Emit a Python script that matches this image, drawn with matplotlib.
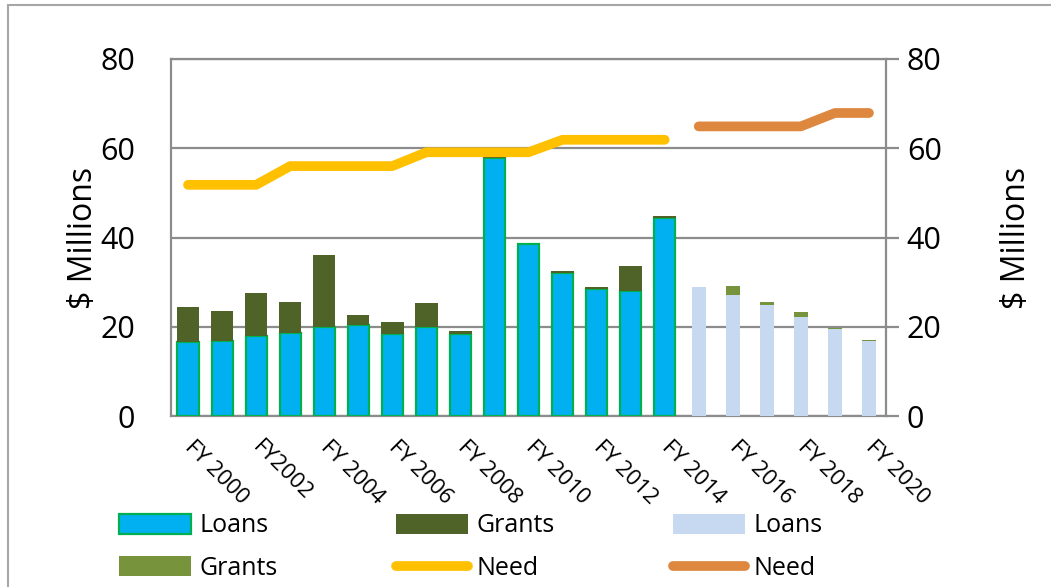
import matplotlib.pyplot as plt
from matplotlib.lines import Line2D
from matplotlib.patches import Patch, Rectangle

plt.rcParams['font.family'] = ['Open Sans', 'DejaVu Sans']

# fiscal years
years = ["FY 2000", "FY 2001", "FY2002", "FY 2003", "FY 2004", "FY 2005", "FY 2006",
         "FY 2007", "FY 2008", "FY 2009", "FY 2010", "FY 2011", "FY 2012", "FY 2013",
         "FY 2014", "FY 2015", "FY 2016", "FY 2017", "FY 2018", "FY 2019", "FY 2020"]

# actual funding FY2000-FY2014 ($ millions)
loans = [16.5, 16.8, 17.9, 18.6, 20.0, 20.3, 18.3, 19.9, 18.3, 57.8, 38.5, 32.0, 28.5, 27.9, 44.4]
grants = [7.9, 6.8, 9.7, 7.0, 16.0, 2.4, 2.7, 5.5, 0.7, 2.2, 0.0, 0.5, 0.5, 5.8, 0.4]
need = [51.8, 51.8, 51.8, 56.0, 56.0, 56.0, 56.0, 59.1, 59.1, 59.1, 59.1, 61.9, 61.9, 61.9, 61.9]

# projected FY2015-FY2020
loans_proj = [28.8, 27.1, 24.8, 22.2, 19.4, 16.7]
grants_proj = [0.0, 2.0, 0.7, 1.0, 0.4, 0.4]
need_proj = [64.9, 64.9, 64.9, 64.9, 67.9, 67.9]

blue = "#00B0F0"
blue_edge = "#00B050"
olive = "#4F6228"
light_blue = "#C6D9F1"
light_olive = "#77933C"
yellow = "#FFC000"
orange = "#DD873F"
grid_gray = "#8C8C8C"

fig = plt.figure(figsize=(10.51, 5.87), dpi=100)
ax = fig.add_axes([0.1627, 0.2913, 0.843 - 0.1627, 0.8995 - 0.2913])

# chart border
fig.patches.append(Rectangle((8 / 1051, -0.1), 1.2, 1.1 - 5 / 587 + 0.0001,
                             transform=fig.transFigure, fill=False,
                             edgecolor="#A6A6A6", linewidth=1.5, zorder=0))

n_act = len(loans)
x_act = list(range(n_act))
x_proj = list(range(n_act, n_act + len(loans_proj)))

ax.bar(x_act, loans, width=0.62, color=blue, edgecolor=blue_edge, linewidth=1.6, zorder=3)
ax.bar(x_act, grants, width=0.66, bottom=loans, color=olive, linewidth=0, zorder=3)
ax.bar(x_proj, loans_proj, width=0.4, color=light_blue, linewidth=0, zorder=3)
ax.bar(x_proj, grants_proj, width=0.4, bottom=loans_proj, color=light_olive, linewidth=0, zorder=3)

ax.plot(x_act, need, color=yellow, linewidth=7, solid_capstyle="round",
        solid_joinstyle="round", zorder=4)
ax.plot(x_proj, need_proj, color=orange, linewidth=7, solid_capstyle="round",
        solid_joinstyle="round", zorder=4)

ax.set_xlim(-0.5, len(years) - 0.5)
ax.set_ylim(0, 80)
ax.set_yticks([0, 20, 40, 60, 80])
ax.yaxis.grid(True, color=grid_gray, linewidth=1.6, zorder=0)
ax.set_axisbelow(True)
for s in ax.spines.values():
    s.set_color(grid_gray)
    s.set_linewidth(1.6)

ax.tick_params(axis="y", length=0, pad=26, labelsize=22)
ax.set_ylabel("$ Millions", fontsize=23, labelpad=0)

# every other year is labelled
ax.set_xticks(range(0, len(years), 2))
ax.set_xticklabels(years[::2], rotation=-45, ha="left", va="center",
                   rotation_mode="anchor", fontsize=16)
ax.tick_params(axis="x", length=0, pad=20)

ax2 = ax.twinx()
ax2.set_ylim(0, 80)
ax2.set_yticks([0, 20, 40, 60, 80])
ax2.tick_params(axis="y", direction="out", length=9, width=1.6, color=grid_gray,
                pad=6, labelsize=22)
for s in ax2.spines.values():
    s.set_visible(False)
ax2.set_ylabel("$ Millions", fontsize=23, labelpad=42)

handles = [
    Patch(facecolor=blue, edgecolor=blue_edge, linewidth=1.6, label="Loans"),
    Patch(facecolor=light_olive, label="Grants"),
    Patch(facecolor=olive, label="Grants"),
    Line2D([0], [0], color=yellow, linewidth=7, solid_capstyle="round", label="Need"),
    Patch(facecolor=light_blue, label="Loans"),
    Line2D([0], [0], color=orange, linewidth=7, solid_capstyle="round", label="Need"),
]
fig.legend(handles=handles, ncol=3, loc="upper left", bbox_to_anchor=(96 / 1051, 1 - 491 / 587),
           frameon=False, fontsize=18, handlelength=2.9, handleheight=0.85,
           handletextpad=0.35, columnspacing=4.7, labelspacing=0.7)

fig.savefig("out.png", dpi=100)
